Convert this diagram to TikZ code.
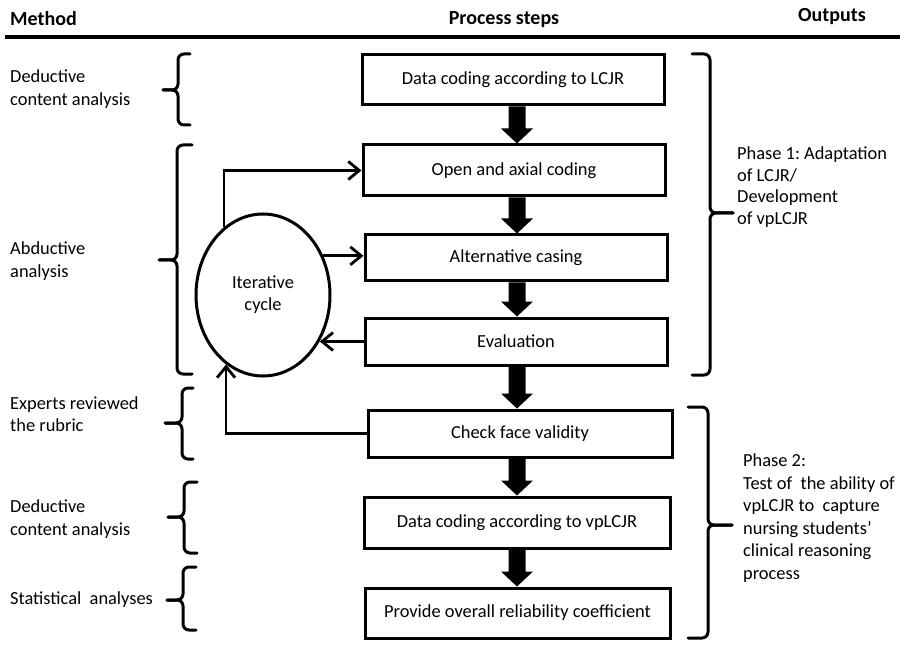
\documentclass[tikz,border=0pt]{standalone}
\usepackage{fontspec}
\setmainfont{Carlito}
\usetikzlibrary{arrows.meta,shapes.geometric,calc}
\frenchspacing

% curly brace: ends x, spine x, tip x, top y, middle y, bottom y
\newcommand\curly[6]{%
  \draw[brc] (#3,#5) -- (#2,#5) -- (#2,#4) -- (#1,#4);
  \draw[brc] (#3,#5) -- (#2,#5) -- (#2,#6) -- (#1,#6);}

% thick block arrow between two stacked boxes
\newcommand\blockarrow[2]{%
  \path (#1.south -| ax) coordinate (s) (#2.north -| ax) coordinate (e);
  \fill ($(s)+(-8.5,0)$) -- ($(s)+(8.5,0)$) -- ($(e)+(8.5,-15)$) -- ($(e)+(16,-15)$)
     -- (e) -- ($(e)+(-16,-15)$) -- ($(e)+(-8.5,-15)$) -- cycle;}

\begin{document}
\begin{tikzpicture}[x=1pt,y=-1pt,
  txt/.style={font=\fontsize{18.4}{22.5}\selectfont, inner sep=0pt, align=left},
  hdr/.style={font=\fontsize{20}{24}\selectfont\bfseries, inner sep=0pt},
  stepbox/.style={draw, line width=3pt, minimum width=302pt, minimum height=49pt,
    inner sep=0pt, font=\fontsize{18.4}{22}\selectfont},
  cyc/.style={draw, ellipse, line width=3pt, minimum width=134pt, minimum height=162pt,
    inner sep=0pt, align=center, font=\fontsize{18.4}{22}\selectfont},
  conn/.style={line width=2.8pt, -{Straight Barb[length=11pt,width=18pt]}},
  brc/.style={line width=3pt, rounded corners=6pt, line cap=round},
]
\useasboundingbox (0,0) rectangle (900,647);

% column headings
\node[hdr, anchor=west] (hm) at (10,19) {Method};
\node[hdr] (hp) at (504,20) {Process steps};
\node[hdr] (ho) at (832,17) {Outputs};
\fill (5,35) rectangle (900,39);

% process steps
\coordinate (ax) at (517,0);
\node[stepbox, minimum height=50pt] (b1) at (513,80) {Data coding according to LCJR};
\node[stepbox, minimum height=51pt] (b2) at (514,170.5) {Open and axial coding};
\node[stepbox, minimum height=46pt] (b3) at (516,258) {Alternative casing};
\node[stepbox, minimum height=47pt] (b4) at (516,341.5) {Evaluation};
\node[stepbox, minimum height=47pt, minimum width=304pt] (b5) at (520,433.5) {Check face validity};
\node[stepbox, minimum height=51pt, minimum width=306pt] (b6) at (517,522.5) {Data coding according to vpLCJR};
\node[stepbox, minimum height=50pt, minimum width=305pt] (b7) at (517.5,613) {Provide overall reliability coefficient};

\blockarrow{b1}{b2}
\blockarrow{b2}{b3}
\blockarrow{b3}{b4}
\blockarrow{b4}{b5}
\blockarrow{b5}{b6}
\blockarrow{b6}{b7}

% iterative cycle and its links
\node[cyc] (ell) at (263,295) {Iterative\\cycle};
\draw[conn] (ell.120) |- (b2.west);
\draw[conn] (ell.33) -- (ell.33 -| b3.west);
\draw[conn] (b4.west) -- (b4.west -| ell.321);
\draw[conn] (b5.west) -| (ell.242);

% methods
\node[txt, anchor=west] (m1) at (10,89) {Deductive\\content analysis};
\node[txt, anchor=west] (m2) at (10,261) {Abductive\\analysis};
\node[txt, anchor=west] (m3) at (10,414) {Experts reviewed\\the rubric};
\node[txt, anchor=west] (m4) at (10,519) {Deductive\\content analysis};
\node[txt, anchor=west] (m5) at (10,600) {Statistical\ \ analyses};

\curly{190}{178}{163}{54}{90}{125}
\curly{192}{177}{159}{145}{260}{374}
\curly{193}{182}{165}{388}{423}{459}
\curly{197}{184}{168}{482}{517}{553}
\curly{196}{183}{167}{567}{600}{630}

% outputs
\curly{692}{710}{733}{54}{213}{375}
\curly{688}{708}{732}{407}{525}{638}
\node[txt, anchor=west, font=\fontsize{18.4}{21.5}\selectfont] (o1) at (737,187) {Phase 1: Adaptation\\of LCJR/\\Development\\of vpLCJR};
\node[txt, anchor=west] (o2) at (743,518) {Phase 2:\\Test of\ \ the ability of\\vpLCJR to\ \ capture\\nursing students’\\clinical reasoning\\process};
\end{tikzpicture}
\end{document}
